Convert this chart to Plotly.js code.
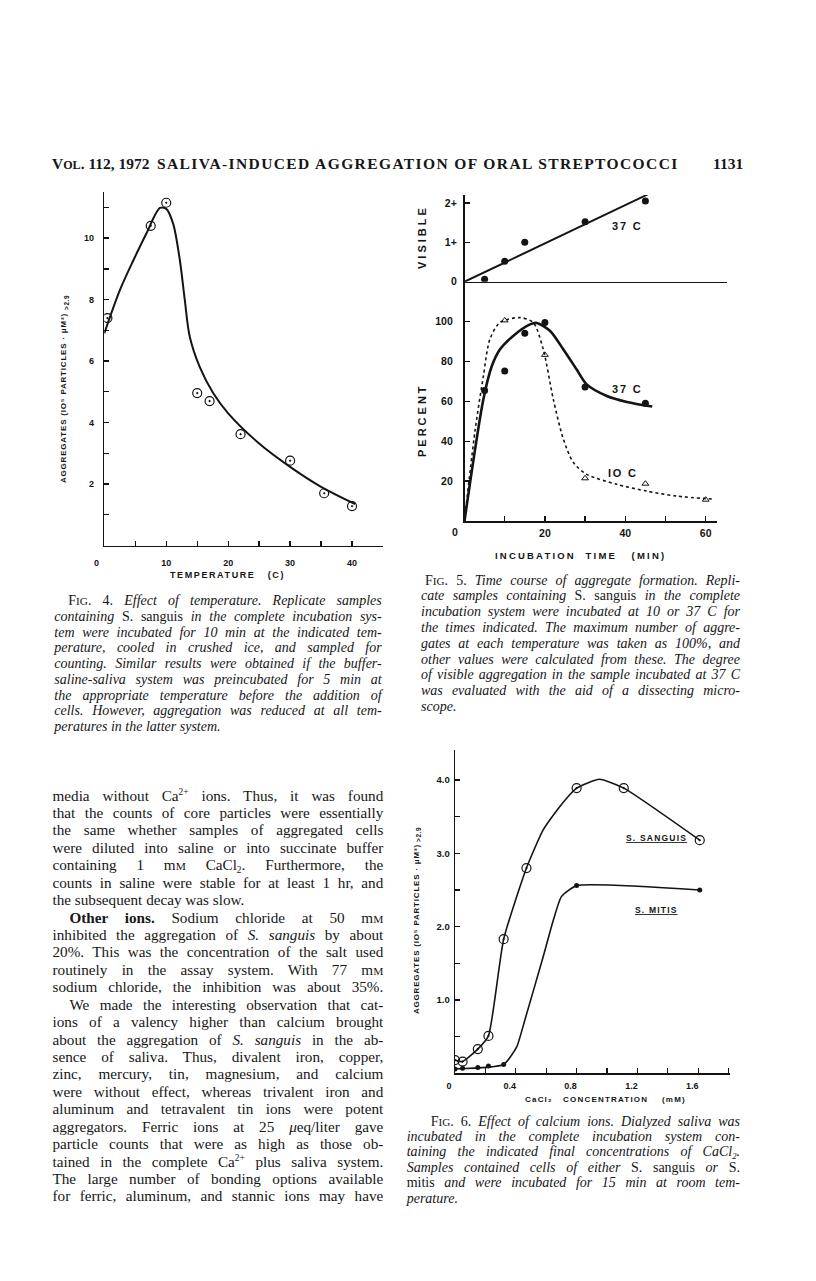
<!DOCTYPE html>
<html><head><meta charset="utf-8">
<script src="https://cdn.plot.ly/plotly-3.0.1.min.js"></script>
<style>
html,body{margin:0;padding:0;background:#fff;}
#page{position:relative;width:816px;height:1281px;overflow:hidden;background:#fff;}
#plot{position:absolute;left:0;top:0;width:816px;height:1281px;}
.ln{position:absolute;font-family:"Liberation Serif","DejaVu Serif",serif;color:#161616;text-align:justify;text-align-last:justify;white-space:nowrap;}
.ln.last{text-align-last:left;}
.ln sup,.ln sub{line-height:1;position:relative;vertical-align:baseline;font-size:62%;}
.ln sup{top:-0.55em;}
.ln sub{top:0.3em;}
.it{font-style:italic;}
.rm{font-style:normal;}
.hd{position:absolute;font-family:"Liberation Serif","DejaVu Serif",serif;color:#161616;white-space:nowrap;font-weight:bold;}
</style></head>
<body><div id="page"><div id="plot"></div></div>
<script>
// ---------------- Fig. 4 data (temperature, C vs aggregates) ----------------
const fig4TempC       = [0.5, 7.5, 10, 15, 17, 22, 30, 35.5, 40];
const fig4Aggregates  = [7.4, 10.4, 11.15, 4.96, 4.7, 3.62, 2.76, 1.7, 1.28];
const fig4CurveTemp   = [0, 2.5, 4.7, 6.8, 9, 10, 11.1, 12.2, 13, 13.8, 15.4, 17.6, 20, 25, 30, 35, 40.5];
const fig4CurveAgg    = [6.9, 8.3, 9.28, 10.15, 10.98, 10.95, 10.48, 9.28, 7.98, 6.79, 5.81, 4.95, 4.3, 3.32, 2.56, 1.91, 1.35];
const fig4XMajor      = [10, 20, 30, 40];
const fig4XMinor      = [5, 15, 25, 35, 45];
const fig4YMajor      = [2, 4, 6, 8, 10];
const fig4YMinor      = [1, 3, 5, 7, 9, 11];

// ---------------- Fig. 5 data (incubation time, min) ----------------
const fig5VisTime     = [5, 10, 15, 30, 45];
const fig5VisScore    = [0.06, 0.52, 1.0, 1.52, 2.05];
const fig5VisFitTime  = [0, 45.7];
const fig5VisFitScore = [0, 2.22];
const fig5VisTicks    = [0, 1, 2];
const fig5VisTickText = ['0', '1+', '2+'];
const fig5Time37      = [5, 10, 15, 20, 30, 45];
const fig5Pct37       = [65.5, 75.2, 94.1, 99.6, 67.2, 59];
const fig5Time10      = [10, 20, 30, 45, 60];
const fig5Pct10       = [100.6, 83.3, 21.4, 18.7, 10.7];
const fig5Curve37Time = [0, 4.7, 6.8, 8.8, 12.1, 16.3, 18, 21.3, 24.6, 27.9, 30.4, 35.4, 40.4, 46.7];
const fig5Curve37Pct  = [0, 61, 77.7, 86, 92.8, 98.6, 99.3, 95.3, 86, 76, 68.5, 62.7, 59.7, 57.4];
const fig5Curve10Time = [0, 2.6, 4.7, 6.3, 8.8, 13.8, 17.1, 19.6, 22.1, 24.6, 27.1, 30.4, 37.9, 45.3, 52.8, 62.3];
const fig5Curve10Pct  = [0, 45, 72.7, 91, 99.5, 102, 99.5, 86, 61, 41, 29.3, 23.4, 18.4, 15, 12.5, 10.9];
const fig5XMajor      = [20, 40, 60];
const fig5XMinor      = [10, 30, 50];
const fig5PctTicks    = [20, 40, 60, 80, 100];

// ---------------- Fig. 6 data (CaCl2 concentration, mM) ----------------
const fig6SanguisConc = [0, 0.05, 0.15, 0.22, 0.32, 0.47, 0.8, 1.11, 1.61];
const fig6SanguisAgg  = [0.18, 0.16, 0.33, 0.51, 1.83, 2.8, 3.89, 3.89, 3.18];
const fig6SanguisCurveConc = [0, 0.05, 0.15, 0.22, 0.32, 0.47, 0.58, 0.69, 0.8, 0.95, 1.11, 1.61];
const fig6SanguisCurveAgg  = [0.18, 0.16, 0.33, 0.51, 1.83, 2.8, 3.32, 3.64, 3.89, 4.01, 3.89, 3.18];
const fig6MitisConc   = [0, 0.05, 0.15, 0.22, 0.32, 0.8, 1.61];
const fig6MitisAgg    = [0.06, 0.07, 0.08, 0.1, 0.12, 2.56, 2.5];
const fig6MitisCurveConc = [0, 0.32, 0.406, 0.46, 0.58, 0.647, 0.70, 0.8, 1.61];
const fig6MitisCurveAgg  = [0.06, 0.12, 0.36, 0.73, 1.59, 2.09, 2.41, 2.56, 2.5];
const fig6XMajor      = [0, 0.4, 0.8, 1.2, 1.6];
const fig6XMajorText  = ['0', '0.4', '0.8', '1.2', '1.6'];
const fig6XMinor      = [0.2, 0.6, 1.0, 1.4, 1.8];
const fig6YMajor      = [1, 2, 3, 4];
const fig6YMajorText  = ['1.0', '2.0', '3.0', '4.0'];
const fig6YMinor      = [0.5, 1.5, 2.5, 3.5];

// ---------------- page text ----------------
const fig4Caption = [
 '<span class="rm">F<span style="font-size:80%">IG</span>. 4.</span> Effect of temperature. Replicate samples',
 'containing <span class="rm">S. sanguis</span> in the complete incubation sys-',
 'tem were incubated for 10 min at the indicated tem-',
 'perature, cooled in crushed ice, and sampled for',
 'counting. Similar results were obtained if the buffer-',
 'saline-saliva system was preincubated for 5 min at',
 'the appropriate temperature before the addition of',
 'cells. However, aggregation was reduced at all tem-',
 'peratures in the latter system.'];
const fig5Caption = [
 '<span class="rm">F<span style="font-size:80%">IG</span>. 5.</span> Time course of aggregate formation. Repli-',
 'cate samples containing <span class="rm">S. sanguis</span> in the complete',
 'incubation system were incubated at 10 or 37 C for',
 'the times indicated. The maximum number of aggre-',
 'gates at each temperature was taken as 100%, and',
 'other values were calculated from these. The degree',
 'of visible aggregation in the sample incubated at 37 C',
 'was evaluated with the aid of a dissecting micro-',
 'scope.'];
const fig6Caption = [
 '<span class="rm">F<span style="font-size:80%">IG</span>. 6.</span> Effect of calcium ions. Dialyzed saliva was',
 'incubated in the complete incubation system con-',
 'taining the indicated final concentrations of CaCl<sub>2</sub>.',
 'Samples contained cells of either <span class="rm">S. sanguis</span> or <span class="rm">S.</span>',
 '<span class="rm">mitis</span> and were incubated for 15 min at room tem-',
 'perature.'];
const bodyLines = [
 'media without Ca<sup>2+</sup> ions. Thus, it was found',
 'that the counts of core particles were essentially',
 'the same whether samples of aggregated cells',
 'were diluted into saline or into succinate buffer',
 'containing 1 m<span style="font-size:75%">M</span> CaCl<sub>2</sub>. Furthermore, the',
 'counts in saline were stable for at least 1 hr, and',
 'the subsequent decay was slow.',
 '<b>Other ions.</b> Sodium chloride at 50 m<span style="font-size:75%">M</span>',
 'inhibited the aggregation of <i>S. sanguis</i> by about',
 '20%. This was the concentration of the salt used',
 'routinely in the assay system. With 77 m<span style="font-size:75%">M</span>',
 'sodium chloride, the inhibition was about 35%.',
 'We made the interesting observation that cat-',
 'ions of a valency higher than calcium brought',
 'about the aggregation of <i>S. sanguis</i> in the ab-',
 'sence of saliva. Thus, divalent iron, copper,',
 'zinc, mercury, tin, magnesium, and calcium',
 'were without effect, whereas trivalent iron and',
 'aluminum and tetravalent tin ions were potent',
 'aggregators. Ferric ions at 25 <i>μ</i>eq/liter gave',
 'particle counts that were as high as those ob-',
 'tained in the complete Ca<sup>2+</sup> plus saliva system.',
 'The large number of bonding options available',
 'for ferric, aluminum, and stannic ions may have'];
const bodyIndented = [7, 12];
const bodyLastLines = [6];

// ---------------- geometry helpers ----------------
const W = 816, H = 1281;
const fx = p => p / W;
const fy = p => 1 - p / H;
const SANS = '"Liberation Sans", "DejaVu Sans", Arial, sans-serif';
const INK = '#141414';
function tf(size) { return {family: SANS, size: size, color: INK, weight: 700}; }

function ax(extra, minorVals) {
  const a = {showline: true, linecolor: INK, linewidth: 1.6, showgrid: false, zeroline: false,
    ticks: 'inside', ticklen: 5, tickwidth: 1.3, tickcolor: INK, tickfont: tf(9),
    tickmode: 'array', fixedrange: true};
  if (minorVals) a.minor = {tickmode: 'array', tickvals: minorVals, ticks: 'inside', ticklen: 5, tickwidth: 1.3, tickcolor: INK, showgrid: false};
  return Object.assign(a, extra);
}
function sp(t, ls) { return '<span style="letter-spacing:' + ls + 'px">' + t + '</span>'; }

const traces = [
  {x: fig4CurveTemp, y: fig4CurveAgg, mode: 'lines', line: {shape: 'spline', smoothing: 0.9, color: INK, width: 2}, xaxis: 'x', yaxis: 'y'},
  {x: fig4TempC, y: fig4Aggregates, mode: 'markers', marker: {symbol: 'circle-open-dot', size: 9, color: INK, line: {width: 1.2, color: INK}}, xaxis: 'x', yaxis: 'y'},

  {x: fig5VisFitTime, y: fig5VisFitScore, mode: 'lines', line: {color: INK, width: 2}, xaxis: 'x2', yaxis: 'y2'},
  {x: fig5VisTime, y: fig5VisScore, mode: 'markers', marker: {symbol: 'circle', size: 7, color: INK}, xaxis: 'x2', yaxis: 'y2'},

  {x: fig5Curve10Time, y: fig5Curve10Pct, mode: 'lines', line: {shape: 'spline', smoothing: 0.8, color: INK, width: 1.6, dash: 'dot'}, xaxis: 'x3', yaxis: 'y3'},
  {x: fig5Curve37Time, y: fig5Curve37Pct, mode: 'lines', line: {shape: 'spline', smoothing: 0.8, color: INK, width: 2.6}, xaxis: 'x3', yaxis: 'y3'},
  {x: fig5Time37, y: fig5Pct37, mode: 'markers', marker: {symbol: 'circle', size: 7, color: INK}, xaxis: 'x3', yaxis: 'y3'},
  {x: fig5Time10, y: fig5Pct10, mode: 'markers', marker: {symbol: 'triangle-up-open', size: 6, color: INK, line: {width: 1, color: INK}}, xaxis: 'x3', yaxis: 'y3'},

  {x: fig6SanguisCurveConc, y: fig6SanguisCurveAgg, mode: 'lines', line: {shape: 'spline', smoothing: 0.5, color: INK, width: 1.6}, xaxis: 'x4', yaxis: 'y4'},
  {x: fig6MitisCurveConc, y: fig6MitisCurveAgg, mode: 'lines', line: {shape: 'spline', smoothing: 0.5, color: INK, width: 1.6}, xaxis: 'x4', yaxis: 'y4'},
  {x: fig6SanguisConc, y: fig6SanguisAgg, mode: 'markers', marker: {symbol: 'circle-open-dot', size: 9, color: INK, line: {width: 1.2, color: INK}}, xaxis: 'x4', yaxis: 'y4'},
  {x: fig6MitisConc, y: fig6MitisAgg, mode: 'markers', marker: {symbol: 'circle', size: 5, color: INK}, xaxis: 'x4', yaxis: 'y4'}
];

function note(text, xp, yp, size, extra) {
  return Object.assign({text: text, xref: 'paper', yref: 'paper', x: fx(xp), y: fy(yp), showarrow: false,
    xanchor: 'center', yanchor: 'middle', font: tf(size)}, extra || {});
}
function dnote(text, x, y, xr, yr, size) {
  return {text: text, xref: xr, yref: yr, x: x, y: y, showarrow: false,
    xanchor: 'center', yanchor: 'middle', font: tf(size)};
}
const yTitleAgg = sp('AGGREGATES (IO⁵ PARTICLES · μM³)', 0.8);
const yTitleSub = sp('&gt;2.9', 0.6);

const layout = {
  width: W, height: H, margin: {l: 0, r: 0, t: 0, b: 0}, showlegend: false,
  paper_bgcolor: 'rgba(0,0,0,0)', plot_bgcolor: 'rgba(0,0,0,0)',
  xaxis: ax({domain: [fx(104.3), fx(383)], range: [0, 45], anchor: 'y', tickvals: fig4XMajor, ticktext: fig4XMajor.map(String), ticklabelstandoff: 8}, fig4XMinor),
  yaxis: ax({domain: [fy(545.5), fy(192)], range: [0, 11.5], anchor: 'x', tickvals: fig4YMajor, ticktext: fig4YMajor.map(String), ticklabelstandoff: 7}, fig4YMinor),
  xaxis2: ax({domain: [fx(464.5), fx(727)], range: [0, 65.3], anchor: 'y2', showticklabels: false, ticks: ''}),
  yaxis2: ax({domain: [fy(281.7), fy(195)], range: [0, 2.2], anchor: 'x2', tickvals: fig5VisTicks, ticktext: fig5VisTickText, ticklabelstandoff: 4, tickfont: tf(10.5)}),
  xaxis3: ax({domain: [fx(464.5), fx(716.7)], range: [0, 62.74], anchor: 'y3', tickvals: fig5XMajor, ticktext: fig5XMajor.map(String), ticklabelstandoff: 2, tickfont: tf(10.5)}, fig5XMinor),
  yaxis3: ax({domain: [fy(521), fy(281.7)], range: [0, 120], anchor: 'x3', tickvals: fig5PctTicks, ticktext: fig5PctTicks.map(String), ticklabelstandoff: 8, tickfont: tf(10.5)}),
  xaxis4: ax({domain: [fx(455), fx(730)], range: [0, 1.809], anchor: 'y4', tickvals: fig6XMajor, ticktext: fig6XMajorText, ticklabelstandoff: 3, ticklabelshift: -6, linewidth: 1.4}, fig6XMinor),
  yaxis4: ax({domain: [fy(1073.3), fy(750)], range: [0, 4.41], anchor: 'x4', tickvals: fig6YMajor, ticktext: fig6YMajorText, ticklabelstandoff: 2, linewidth: 1.4, tickfont: tf(9.5)}, fig6YMinor),
  annotations: [
    note('0', 96.7, 563, 9),
    note(sp('TEMPERATURE&nbsp;&nbsp;&nbsp;(C)', 1.6), 227.5, 575, 9),
    note(yTitleAgg, 63, 398, 8, {textangle: -90}),
    note(yTitleSub, 66, 303, 6.5, {textangle: -90}),

    note(sp('VISIBLE', 3), 422, 237, 11, {textangle: -90}),
    note(sp('PERCENT', 3), 422, 420, 11, {textangle: -90}),
    note(sp('INCUBATION&nbsp;&nbsp;TIME&nbsp;&nbsp;&nbsp;(MIN)', 2.2), 580, 555, 9.5),
    note('0', 455, 532, 10.5),
    dnote(sp('37 C', 1.8), 40.3, 1.42, 'x2', 'y2', 11),
    dnote(sp('37 C', 1.8), 40.4, 66.4, 'x3', 'y3', 11),
    dnote(sp('IO C', 1.8), 39.5, 23.9, 'x3', 'y3', 11),

    note(yTitleAgg, 416, 929, 8, {textangle: -90}),
    note(yTitleSub, 419, 834, 6.5, {textangle: -90}),
    note(sp('CaCl₂&nbsp;&nbsp;&nbsp;CONCENTRATION&nbsp;&nbsp;&nbsp;&nbsp;(mM)', 1.2), 605, 1099, 8),
    dnote('<span style="text-decoration:underline;letter-spacing:1.2px">S. SANGUIS</span>', 1.327, 3.206, 'x4', 'y4', 8.5),
    dnote('<span style="text-decoration:underline;letter-spacing:1.2px">S. MITIS</span>', 1.327, 2.23, 'x4', 'y4', 8.5)
  ]
};

Plotly.newPlot('plot', traces, layout, {staticPlot: true, displayModeBar: false});

// ---------------- HTML text blocks ----------------
const page = document.getElementById('page');
function block(lines, o) {
  lines.forEach((t, i) => {
    const d = document.createElement('div');
    const indent = (o.indents || []).includes(i) ? o.indent : 0;
    const isLast = (o.lasts || []).includes(i);
    d.className = 'ln' + (isLast ? ' last' : '') + (o.italic ? ' it' : '');
    d.style.left = (o.left + indent) + 'px';
    d.style.width = (o.right - o.left - indent) + 'px';
    d.style.top = (o.top + i * o.gap - o.lh / 2) + 'px';
    d.style.height = o.lh + 'px';
    d.style.lineHeight = o.lh + 'px';
    d.style.fontSize = o.size + 'px';
    d.innerHTML = t;
    page.appendChild(d);
  });
}
block(fig4Caption, {left: 54.3, right: 381.7, top: 600.7, gap: 15.75, lh: 15, size: 14, italic: true, indents: [0], indent: 14, lasts: [8]});
block(fig5Caption, {left: 421, right: 740, top: 580, gap: 15.8, lh: 15, size: 14, italic: true, indents: [0], indent: 4, lasts: [8]});
block(fig6Caption, {left: 406.7, right: 740, top: 1121, gap: 15.4, lh: 15, size: 14, italic: true, indents: [0], indent: 24, lasts: [5]});
block(bodyLines, {left: 52.5, right: 383.3, top: 795, gap: 17.43, lh: 17, size: 15.2, italic: false, indents: bodyIndented, indent: 17, lasts: bodyLastLines});

function hd(html, left, cy, size) {
  const d = document.createElement('div');
  d.className = 'hd';
  d.style.left = left + 'px';
  d.style.top = (cy - 10) + 'px';
  d.style.lineHeight = '20px';
  d.style.fontSize = size + 'px';
  d.innerHTML = html;
  page.appendChild(d);
}
hd('V<span style="font-size:78%">OL</span>. 112, 1972', 52, 164, 15.5);
hd('<span style="letter-spacing:1.4px">SALIVA-INDUCED AGGREGATION OF ORAL STREPTOCOCCI</span>', 157, 164, 15.5);
hd('1131', 713, 164, 15.5);
</script>
</body></html>
